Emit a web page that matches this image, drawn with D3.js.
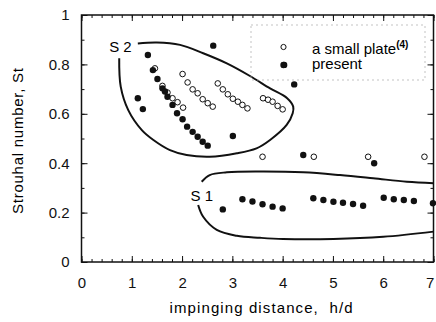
<!DOCTYPE html>
<html>
<head>
<meta charset="utf-8">
<script src="https://cdn.jsdelivr.net/npm/d3@7"></script>
<style>
  body { margin: 0; background: #fff; }
  svg { display: block; font-family: "Liberation Sans", Arial, sans-serif; }
  .axis text { font-size: 15px; fill: #111; }
  .axis line { stroke: #111; }
  .axis path { display: none; }
</style>
</head>
<body>
<svg id="chart" width="436" height="322"></svg>
<script>
// Strouhal number vs impinging distance
const smallPlate = [
  [1.46, 0.784], [1.61, 0.713], [1.71, 0.686], [1.81, 0.663], [1.91, 0.647], [2.02, 0.625],
  [2.01, 0.761], [2.11, 0.727], [2.21, 0.699], [2.31, 0.683], [2.41, 0.659], [2.51, 0.643], [2.61, 0.629],
  [2.71, 0.723], [2.81, 0.699], [2.91, 0.679], [3.01, 0.661], [3.11, 0.649], [3.20, 0.636], [3.30, 0.622],
  [3.61, 0.663], [3.71, 0.657], [3.80, 0.649], [3.90, 0.632], [4.00, 0.618],
  [3.60, 0.426], [4.62, 0.426], [5.70, 0.426], [6.82, 0.426]
];

const present = [
  [1.12, 0.663], [1.22, 0.619], [1.32, 0.838], [1.42, 0.777], [1.51, 0.741], [1.61, 0.703],
  [1.66, 0.690], [1.71, 0.669], [1.81, 0.636], [1.90, 0.602], [2.01, 0.578], [2.10, 0.548],
  [2.21, 0.527], [2.31, 0.507], [2.41, 0.487], [2.51, 0.471], [2.62, 0.876], [3.01, 0.510],
  [4.03, 0.798], [4.23, 0.719], [4.41, 0.433], [5.82, 0.400],
  [2.81, 0.213], [3.20, 0.254], [3.40, 0.245], [3.60, 0.234], [3.80, 0.224], [4.00, 0.217],
  [4.61, 0.258], [4.81, 0.251], [5.01, 0.244], [5.20, 0.240], [5.40, 0.235], [5.60, 0.228],
  [6.01, 0.260], [6.21, 0.254], [6.41, 0.251], [6.61, 0.247], [6.99, 0.238]
];

// hand drawn regions
const s2Curve = [
  [1.12, 0.885], [1.50, 0.889], [1.96, 0.879], [2.42, 0.845], [2.89, 0.804], [3.35, 0.753],
  [3.75, 0.703], [4.09, 0.663], [4.21, 0.629], [4.20, 0.602], [4.08, 0.555], [3.75, 0.494],
  [3.48, 0.460], [3.09, 0.440], [2.55, 0.426], [2.09, 0.433], [1.76, 0.453], [1.43, 0.494],
  [1.20, 0.534], [0.93, 0.615], [0.78, 0.710], [0.75, 0.825]
];
const s1Upper = [
  [2.39, 0.325], [2.55, 0.352], [2.89, 0.363], [3.55, 0.366], [4.41, 0.363], [5.14, 0.352],
  [5.80, 0.339], [6.47, 0.325], [7.0, 0.319]
];
const s1Lower = [
  [2.32, 0.231], [2.42, 0.183], [2.69, 0.130], [3.09, 0.106], [3.55, 0.098], [4.01, 0.093],
  [5.01, 0.093], [6.00, 0.102], [7.0, 0.123]
];

const xTicks = [0, 1, 2, 3, 4, 5, 6, 7];
const yTicks = [0, 0.2, 0.4, 0.6, 0.8, 1];

const svg = d3.select("#chart");
const padL = 81.5, padR = 433.5, padT = 15, padB = 262;

const x = d3.scaleLinear().domain([0, 7]).range([padL, padR]);
const y = d3.scaleLinear().domain([0, 1]).range([padB, padT]);

// minor ticks
const xMinor = d3.range(0, 7.001, 0.2);
const yMinor = d3.range(0, 1.001, 0.1);

svg.append("g").attr("class", "axis").attr("transform", `translate(0,${padB})`)
  .call(d3.axisBottom(x).tickValues(xMinor).tickSizeInner(-3).tickSizeOuter(0).tickFormat(""));
svg.append("g").attr("class", "axis").attr("transform", `translate(0,${padT})`)
  .call(d3.axisTop(x).tickValues(xMinor).tickSizeInner(-3).tickSizeOuter(0).tickFormat(""));
svg.append("g").attr("class", "axis").attr("transform", `translate(0,${padT})`)
  .call(d3.axisTop(x).tickValues(xTicks).tickSizeInner(-6).tickSizeOuter(0).tickFormat(""));
svg.append("g").attr("class", "axis").attr("transform", `translate(${padL},0)`)
  .call(d3.axisLeft(y).tickValues(yMinor).tickSizeInner(-3).tickSizeOuter(0).tickFormat(""));
svg.append("g").attr("class", "axis").attr("transform", `translate(${padR},0)`)
  .call(d3.axisRight(y).tickValues(yMinor).tickSizeInner(-3).tickSizeOuter(0).tickFormat(""));
svg.append("g").attr("class", "axis").attr("transform", `translate(${padR},0)`)
  .call(d3.axisRight(y).tickValues(yTicks).tickSizeInner(-6).tickSizeOuter(0).tickFormat(""));

const xAxis = svg.append("g").attr("class", "axis").attr("transform", `translate(0,${padB})`)
  .call(d3.axisBottom(x).tickValues(xTicks).tickSizeInner(-6).tickSizeOuter(0).tickPadding(15)
    .tickFormat(d3.format("d")));
// keep the last label inside the window
xAxis.selectAll("text").filter((d) => d === 7).attr("dx", "-0.25em");

svg.append("g").attr("class", "axis").attr("transform", `translate(${padL},0)`)
  .call(d3.axisLeft(y).tickValues(yTicks).tickSizeInner(-6).tickSizeOuter(0).tickPadding(12)
    .tickFormat((d) => (d === 0 || d === 1 ? d : d.toFixed(1))));

svg.append("rect")
  .attr("x", padL).attr("y", padT)
  .attr("width", padR - padL).attr("height", padB - padT)
  .attr("fill", "none").attr("stroke", "#111").attr("stroke-width", 1.5);

// axis titles
svg.append("text")
  .attr("x", 261).attr("y", 313)
  .attr("text-anchor", "middle")
  .attr("font-size", 15)
  .attr("textLength", 183).attr("lengthAdjust", "spacing")
  .style("white-space", "pre")
  .text("impinging distance,  h/d");

svg.append("text")
  .attr("transform", "translate(23,141) rotate(-90)")
  .attr("text-anchor", "middle")
  .attr("font-size", 15)
  .attr("textLength", 146).attr("lengthAdjust", "spacing")
  .text("Strouhal number, St");

// regions
const line = d3.line().x((d) => x(d[0])).y((d) => y(d[1])).curve(d3.curveCatmullRom.alpha(0.5));
[s2Curve, s1Upper, s1Lower].forEach((c) => {
  svg.append("path").attr("d", line(c))
    .attr("fill", "none").attr("stroke", "#111").attr("stroke-width", 2);
});

svg.append("text").attr("x", x(0.55)).attr("y", y(0.85)).attr("font-size", 15)
  .style("white-space", "pre").text("S 2");
svg.append("text").attr("x", x(2.17)).attr("y", y(0.245)).attr("font-size", 15)
  .style("white-space", "pre").text("S 1");

// points
svg.append("g").selectAll("circle").data(smallPlate).join("circle")
  .attr("cx", (d) => x(d[0])).attr("cy", (d) => y(d[1])).attr("r", 2.8)
  .attr("fill", "#fff").attr("stroke", "#111").attr("stroke-width", 1);

svg.append("g").selectAll("circle").data(present).join("circle")
  .attr("cx", (d) => x(d[0])).attr("cy", (d) => y(d[1])).attr("r", 3.2)
  .attr("fill", "#111");

// legend
const legend = svg.append("g").attr("id", "legend");
legend.append("rect")
  .attr("x", 251).attr("y", 25).attr("width", 174).attr("height", 55)
  .attr("fill", "none").attr("stroke", "#aaa").attr("stroke-width", 0.7)
  .attr("stroke-dasharray", "2,3");
legend.append("circle").attr("cx", 283.5).attr("cy", 47).attr("r", 2.6)
  .attr("fill", "#fff").attr("stroke", "#111");
legend.append("circle").attr("cx", 283.5).attr("cy", 65).attr("r", 3.2).attr("fill", "#111");
const t1 = legend.append("text").attr("x", 312).attr("y", 53.5).attr("font-size", 15);
t1.append("tspan").text("a small plate");
t1.append("tspan").attr("dy", -6).attr("font-size", 10).attr("font-weight", "bold").text("(4)");
legend.append("text").attr("x", 312).attr("y", 69).attr("font-size", 15).text("present");
</script>
</body>
</html>
